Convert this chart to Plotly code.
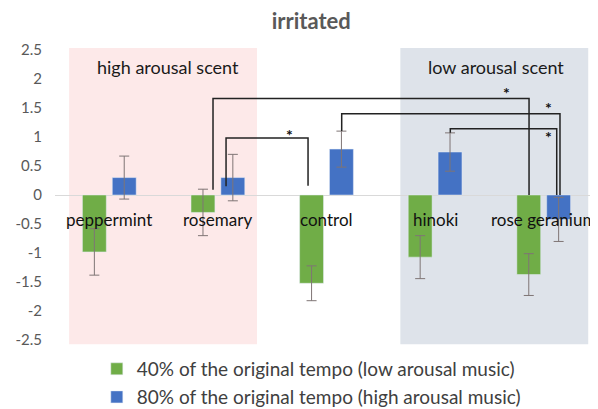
import plotly.graph_objects as go

# ---------------- data ----------------
categories = ["peppermint", "rosemary", "control", "hinoki", "rose geranium"]
series_names = ["40% of the original tempo (low arousal music)",
                "80% of the original tempo (high arousal music)"]
low_tempo = [-0.98, -0.30, -1.52, -1.07, -1.37]
low_tempo_err = [0.40, 0.40, 0.30, 0.37, 0.36]
high_tempo = [0.30, 0.30, 0.79, 0.74, -0.42]
high_tempo_err = [0.37, 0.40, 0.31, 0.33, 0.38]
y_tick_vals = [2.5, 2, 1.5, 1, 0.5, 0, -0.5, -1, -1.5, -2, -2.5]
y_tick_text = ["2.5", "2", "1.5", "1", "0.5", "0", "-0.5", "-1", "-1.5", "-2", "-2.5"]
region_labels = ["high arousal scent", "low arousal scent"]

# significance brackets: (left category, left offset, left bottom y,
#                         right category, right offset, right bottom y, top y, star x, star y)
brackets = [
    (1, -0.045, 0.09, 4, -0.135, 0.0, 1.66, 3.66, 1.76),
    (1, 0.075, 0.15, 2, -0.17, 0.16, 0.98, 1.66, 1.05),
    (2, 0.14, 1.10, 4, 0.15, 0.0, 1.40, 4.04, 1.50),
    (3, 0.14, 1.07, 4, 0.12, 0.0, 1.14, 4.04, 1.01),
]

GREEN = "#70AD47"
BLUE = "#4472C4"
FONT = "Lato"

x_pos = list(range(len(categories)))

fig = go.Figure()

err_style = dict(type="data", symmetric=True, color="#7f7575", thickness=1, width=5)

fig.add_trace(go.Bar(
    x=x_pos, y=low_tempo, name=series_names[0], marker_color=GREEN,
    error_y=dict(array=low_tempo_err, **err_style), legend="legend",
))
fig.add_trace(go.Bar(
    x=x_pos, y=high_tempo, name=series_names[1], marker_color=BLUE,
    error_y=dict(array=high_tempo_err, **err_style), legend="legend2",
))

# background regions
fig.add_shape(type="rect", xref="x", yref="y", x0=-0.37, x1=1.36, y0=-2.57, y1=2.53,
              fillcolor="#FDE9E9", line_width=0, layer="below")
fig.add_shape(type="rect", xref="x", yref="y", x0=2.68, x1=4.41, y0=-2.57, y1=2.53,
              fillcolor="#DEE3EA", line_width=0, layer="below")

fig.add_annotation(x=0.54, y=2.2, text=region_labels[0], showarrow=False,
                   font=dict(family=FONT, size=18, color="#1a1a1a"))
fig.add_annotation(x=3.56, y=2.2, text=region_labels[1], showarrow=False,
                   font=dict(family=FONT, size=18, color="#1a1a1a"))

# category labels below the zero line
for xi, c in zip(x_pos, categories):
    fig.add_annotation(x=xi, y=-0.43, text=c, showarrow=False,
                       font=dict(family=FONT, size=17, color="#111111"))

# brackets
for (lc, lo, lb, rc, ro, rb, top, sx, sy) in brackets:
    xl = x_pos[lc] + lo
    xr = x_pos[rc] + ro
    fig.add_trace(go.Scatter(
        x=[xl, xl, xr, xr], y=[lb, top, top, rb], mode="lines",
        line=dict(color="#222222", width=1.5), showlegend=False, hoverinfo="skip",
    ))
    fig.add_annotation(x=sx, y=sy, text="<b>*</b>", showarrow=False,
                       font=dict(family=FONT, size=16, color="#111111"))

legend_style = dict(orientation="v", x=0.077, xanchor="left", yanchor="middle",
                    font=dict(family=FONT, size=19, color="#404040"),
                    bgcolor="rgba(0,0,0,0)")

# the page body adds an 8px offset; the figure is sized to fill the rest of the window
fig.update_layout(
    width=590, height=401,
    margin=dict(l=47, r=0, t=36, b=63, autoexpand=False),
    paper_bgcolor="white", plot_bgcolor="white",
    barmode="group", bargap=0.45, bargroupgap=0.2,
    title=dict(text="<b>irritated</b>", x=0.514, xanchor="center", y=0.968, yanchor="middle",
               font=dict(family=FONT, size=22, color="#595959")),
    showlegend=True,
    legend=dict(y=-0.076, **legend_style),
    legend2=dict(y=-0.169, **legend_style),
    xaxis=dict(range=[-0.5, 4.5], showticklabels=False, showgrid=False,
               zeroline=False, showline=False, ticks="", automargin=False),
    yaxis=dict(range=[-2.6, 2.6], tickvals=y_tick_vals, ticktext=y_tick_text,
               showgrid=False, zeroline=True, zerolinecolor="#d9d9d9", zerolinewidth=1,
               showline=False, ticks="", ticklabelstandoff=12, automargin=False,
               tickfont=dict(family=FONT, size=15, color="#595959")),
    font=dict(family=FONT),
)

fig.write_html("out.html")
